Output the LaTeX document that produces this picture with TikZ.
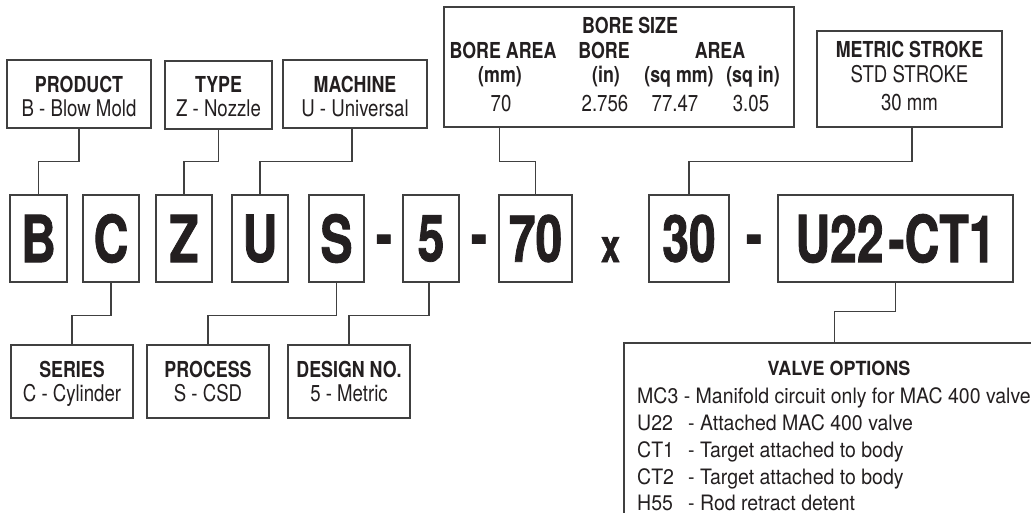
\documentclass[tikz,border=0pt]{standalone}
\usepackage{fontspec}
\setmainfont{TeX Gyre Heros}
\newfontfamily\cnfont{TeX Gyre Heros}[FakeStretch=0.81]
\newfontfamily\bigfont{TeX Gyre Heros}[FakeStretch=0.74,FakeBold=1.2]
\newfontfamily\vfont{TeX Gyre Heros}[FakeStretch=0.92]
\definecolor{ink}{HTML}{231F20}
\definecolor{rulec}{HTML}{404040}
\begin{document}
\begin{tikzpicture}[x=1pt,y=-1pt,
  box/.style={draw=rulec,line width=1.3pt,inner sep=0pt,fill=none},
  bigbox/.style={box,minimum height=87pt,text=ink,font=\fontsize{65}{70}\selectfont\bigfont\bfseries},
  bigtxt/.style={anchor=base,inner sep=0pt,text=ink,font=\fontsize{65}{70}\selectfont\bigfont\bfseries},
  ttl/.style={anchor=base,inner sep=0pt,text=ink,font=\fontsize{22}{24}\selectfont\cnfont\bfseries},
  sub/.style={anchor=base,inner sep=0pt,text=ink,font=\fontsize{23}{25}\selectfont\cnfont},
  vttl/.style={anchor=base,inner sep=0pt,text=ink,font=\fontsize{19.5}{22}\selectfont\vfont\bfseries},
  vln/.style={anchor=base west,inner sep=0pt,text=ink,font=\fontsize{21.2}{24}\selectfont\vfont},
  conn/.style={draw=rulec,line width=1.3pt}]
\fill[white] (0,0) rectangle (1031,512);
\useasboundingbox (0,0) rectangle (1031,512);

% top boxes
\node[box,minimum width=144pt,minimum height=68pt] (prod) at (79,94) {};
\node[box,minimum width=107pt,minimum height=68pt] (type) at (218.5,95) {};
\node[box,minimum width=144pt,minimum height=68pt] (mach) at (355,94) {};
\node[box,minimum width=350pt,minimum height=120pt] (bore) at (619,67) {};
\node[box,minimum width=185pt,minimum height=96pt] (metric) at (909.5,79) {};

\node[ttl] (prodT) at (79,92) {PRODUCT};
\node[sub] (prodS) at (79,116) {B - Blow Mold};
\node[ttl] (typeT) at (218.5,92) {TYPE};
\node[sub] (typeS) at (218.5,116) {Z - Nozzle};
\node[ttl] (machT) at (355,92) {MACHINE};
\node[sub] (machS) at (355,116) {U - Universal};

\node[ttl] (boreT) at (630,33) {BORE SIZE};
\node[ttl] (boreA) at (503,58) {BORE AREA};
\node[ttl] (boreB) at (604,58) {BORE};
\node[ttl] (boreC) at (720,58) {AREA};
\node[ttl] (boreD) at (500,82) {(mm)};
\node[ttl] (boreE) at (606,82) {(in)};
\node[ttl] (boreF) at (679,82) {(sq mm)};
\node[ttl] (boreG) at (753,82) {(sq in)};
\node[sub] (boreH) at (501,111) {70};
\node[sub] (boreI) at (605,111) {2.756};
\node[sub] (boreJ) at (675,111) {77.47};
\node[sub] (boreK) at (751,111) {3.05};

\node[ttl] (metT) at (909.5,57) {METRIC STROKE};
\node[sub] (metS) at (909.5,82) {STD STROKE};
\node[sub] (metV) at (909.5,110) {30 mm};

% code row
\node[bigbox,minimum width=57pt] (bB) at (38.5,238.5) {B};
\node[bigbox,minimum width=56pt] (bC) at (111,238.5) {C};
\node[bigbox,minimum width=56pt] (bZ) at (184,238.5) {Z};
\node[bigbox,minimum width=56pt] (bU) at (260,238.5) {U};
\node[bigbox,minimum width=55pt] (bS) at (336.5,238.5) {S};
\node[bigtxt] (d1) at (384,257) {-};
\node[bigbox,minimum width=56pt] (b5) at (431,238.5) {5};
\node[bigtxt] (d2) at (479,257) {-};
\node[bigbox,minimum width=73pt] (b70) at (535.5,238.5) {70};
\node[anchor=base,inner sep=0pt,text=ink,font=\fontsize{46}{50}\selectfont\bigfont\bfseries] (xx) at (610.5,262) {x};
\node[bigbox,minimum width=80pt] (b30) at (689,238.5) {30};
\node[bigtxt] (d3) at (754,257) {-};
\node[bigbox,minimum width=235pt] (bV) at (895.5,238.5) {U22\kern5pt-CT1};

% bottom boxes
\node[box,minimum width=122pt,minimum height=73pt] (series) at (72,381.5) {};
\node[box,minimum width=122pt,minimum height=73pt] (process) at (208,381.5) {};
\node[box,minimum width=122pt,minimum height=73pt] (design) at (349,381.5) {};
\node[ttl] (serT) at (72,377) {SERIES};
\node[sub] (serS) at (72,401) {C - Cylinder};
\node[ttl] (proT) at (208,377) {PROCESS};
\node[sub] (proS) at (208,401) {S - CSD};
\node[ttl] (desT) at (349,377) {DESIGN NO.};
\node[sub] (desS) at (349,401) {5 - Metric};

\node[box,minimum width=421pt,minimum height=187pt] (valve) at (834.5,436.5) {};
\node[vttl] (valT) at (839,375) {VALVE OPTIONS};
\node[vln] (v1) at (637,403) {MC3 - Manifold circuit only for MAC 400 valve};
\node[vln] (v2) at (637,430) {\makebox[51pt][l]{U22}- Attached MAC 400 valve};
\node[vln] (v3) at (637,457) {\makebox[51pt][l]{CT1}- Target attached to body};
\node[vln] (v4) at (637,484) {\makebox[51pt][l]{CT2}- Target attached to body};
\node[vln] (v5) at (637,510) {\makebox[51pt][l]{H55}- Rod retract detent};

% connectors
\draw[conn] (prod.south) -- ++(0,33) -| (bB.north);
\draw[conn] (type.south) -- ++(0,32) -| (bZ.north);
\draw[conn] ([xshift=-3pt]mach.south) -- ++(0,33) -| (bU.north);
\draw[conn] ([xshift=56pt]bore.south west) -- ++(0,34) -| (b70.north);
\draw[conn] ([xshift=2.5pt]metric.south) -- ++(0,34) -| (b30.north);
\draw[conn] (bC.south) -- ++(0,33) -| (series.north);
\draw[conn] (bS.south) -- ++(0,33) -| (process.north);
\draw[conn] ([xshift=-2pt]b5.south) -- ++(0,33) -| (design.north);
\draw[conn] (bV.south) -- ++(0,29) -| (valve.north);
\end{tikzpicture}
\end{document}
